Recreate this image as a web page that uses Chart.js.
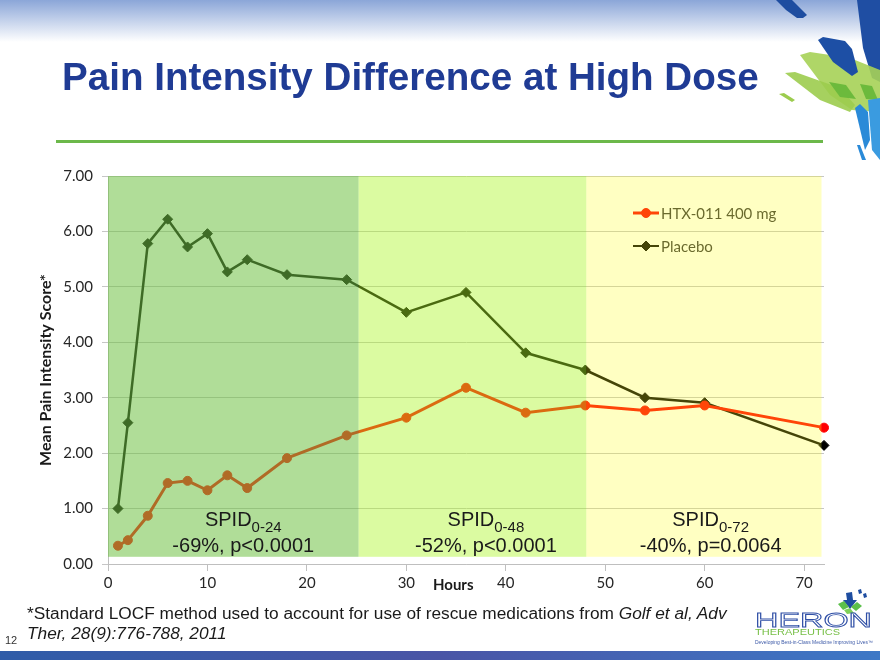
<!DOCTYPE html>
<html>
<head>
<meta charset="utf-8">
<title>Pain Intensity Difference at High Dose</title>
<script src="https://cdn.jsdelivr.net/npm/chart.js@4.4.1/dist/chart.umd.min.js"></script>
<style>
    html, body { margin: 0; padding: 0; background: #fff; }
    #slide { position: relative; width: 880px; height: 660px; overflow: hidden; font-family: "Liberation Sans", Arial, sans-serif; }
    #chart { position: absolute; left: 0; top: 0; }
    .top-fade { position: absolute; left: 0; top: 0; width: 880px; height: 42px; background: linear-gradient(#8ba6d8, #ffffff); }
    .deco { position: absolute; left: 0; top: 0; }
    h1 { position: absolute; left: 62px; top: 58px; margin: 0; font-size: 38.6px; line-height: 1; font-weight: bold; color: #1f3b94; white-space: nowrap; }
    .rule { position: absolute; left: 56px; top: 140px; width: 767px; height: 3px; background: #6cb84a; }
    .footnote { position: absolute; left: 27px; top: 603px; font-size: 17.3px; line-height: 20px; color: #1a1a1a; white-space: nowrap; }
    .page-no { position: absolute; left: 5px; top: 634px; font-size: 11px; color: #333; }
    .bottom-bar { position: absolute; left: 0; top: 651px; width: 880px; height: 9px; background: linear-gradient(90deg, #2f5ca8, #4a55a6 50%, #3d78c6); }
    .logo { position: absolute; left: 740px; top: 580px; }
</style>
</head>
<body>
<div id="slide">
    <div class="top-fade"></div>
    <svg class="deco" width="880" height="170">
        <polygon points="776,0 792,0 807,15 803,18 797,18 786,10" fill="#1e4da0"/>
        <polygon points="857,0 880,0 880,82 872,78 863,48" fill="#1f4ea3"/>
        <polygon points="800,55 810,52 850,58 880,70 880,112 852,110 830,95" fill="#a6d156" opacity="0.9"/>
        <polygon points="785,73 795,72 840,88 855,105 850,112 820,100" fill="#9ccc4e" opacity="0.9"/>
        <polygon points="829,82 846,85 856,99 840,97" fill="#6cba3c"/>
        <polygon points="860,84 872,86 878,100 866,99" fill="#6cba3c"/>
        <polygon points="779,94 784,93 795,100 792,102" fill="#9ccc4e"/>
        <polygon points="818,40 823,37 845,41 852,49 858,72 852,76 833,62" fill="#1d4fa5"/>
        <polygon points="855,108 860,104 868,112 870,140 865,150" fill="#2a8ad8"/>
        <polygon points="868,100 880,98 880,160 872,150" fill="#3a9be0"/>
        <polygon points="857,145 860,145 866,160 862,160" fill="#2a8ad8"/>
    </svg>
    <canvas id="chart" width="880" height="660"></canvas>
    <h1>Pain Intensity Difference at High Dose</h1>
    <div class="rule"></div>
    <div class="footnote">*Standard LOCF method used to account for use of rescue medications from <i>Golf et al, Adv</i><br><i>Ther, 28(9):776-788, 2011</i></div>
    <div class="page-no">12</div>
    <svg class="logo" width="140" height="70">
        <polygon points="106,13 112,12 113,20 117,20 110,29 103,20 107,20" fill="#1e4da0"/>
        <polygon points="98,24 104,21 109,27 103,30" fill="#5cc04a"/>
        <polygon points="111,27 117,22 122,26 116,31" fill="#5cc04a"/>
        <polygon points="104,30 110,28 114,33 107,34" fill="#7fd05a"/>
        <polygon points="118,10 121,9 122,13 119,14" fill="#1e4da0"/>
        <polygon points="123,14 126,13 127,17 124,18" fill="#1e4da0"/>
        <text x="15" y="47" textLength="117" lengthAdjust="spacingAndGlyphs" font-size="21" font-family="Liberation Sans" fill="none" stroke="#2f4fa6" stroke-width="0.8">HERON</text>
        <text x="15" y="55" textLength="85" lengthAdjust="spacingAndGlyphs" font-size="9" font-family="Liberation Sans" fill="#76bf45">THERAPEUTICS</text>
        <text x="15" y="64" textLength="118" lengthAdjust="spacingAndGlyphs" font-size="5" font-family="Liberation Sans" fill="#3d5aa8">Developing Best-in-Class Medicine Improving Lives™</text>
    </svg>
    <div class="bottom-bar"></div>
</div>
<script>
const hours = [1, 2, 4, 6, 8, 10, 12, 14, 18, 24, 30, 36, 42, 48, 54, 60, 72];
const htxScores = [0.33, 0.43, 0.87, 1.46, 1.50, 1.33, 1.60, 1.37, 1.91, 2.32, 2.64, 3.18, 2.73, 2.86, 2.77, 2.86, 2.46];
const placeboScores = [1.00, 2.55, 5.78, 6.22, 5.72, 5.96, 5.27, 5.49, 5.22, 5.13, 4.54, 4.90, 3.81, 3.50, 3.00, 2.91, 2.14];
const seriesNames = ['HTX-011 400 mg', 'Placebo'];
const xTickValues = [0, 10, 20, 30, 40, 50, 60, 70];

// shaded SPID periods (hours) and their result labels
const periodEdges = [0, 25.2, 48.1, 71.75];
const spidSubscripts = ['0-24', '0-48', '0-72'];
const spidResults = ['-69%, p<0.0001', '-52%, p<0.0001', '-40%, p=0.0064'];

const periodPlugin = {
    id: 'periods',
    afterDatasetsDraw(chart) {
        const { ctx, chartArea, scales: { x, y } } = chart;
        ctx.save();

        // legend inside the plot, under the tint like the original
        chart.data.datasets.forEach((ds, i) => {
            const ly = chartArea.top + 37 + i * 33;
            const lx = chartArea.right - 191;
            ctx.strokeStyle = ds.borderColor;
            ctx.fillStyle = ds.borderColor;
            ctx.lineWidth = i === 0 ? 3 : 2;
            ctx.beginPath();
            ctx.moveTo(lx, ly);
            ctx.lineTo(lx + 26, ly);
            ctx.stroke();
            ctx.lineWidth = 1;
            Chart.helpers.drawPoint(ctx, { pointStyle: ds.pointStyle, radius: ds.pointRadius, borderWidth: 1, rotation: 0 }, lx + 13, ly);
            ctx.fillStyle = '#333';
            ctx.font = '15px Lato';
            ctx.textAlign = 'left';
            ctx.textBaseline = 'middle';
            ctx.fillText(ds.label, lx + 28, ly + 1);
        });

        // translucent bands
        const tints = ['rgba(112,193,69,0.553)', 'rgba(172,246,37,0.43)', 'rgba(255,255,30,0.27)'];
        const top = y.getPixelForValue(7);
        const bottom = y.getPixelForValue(0.13);
        for (let i = 0; i < 3; i++) {
            const l = x.getPixelForValue(periodEdges[i]);
            const r = x.getPixelForValue(periodEdges[i + 1]);
            ctx.fillStyle = tints[i];
            ctx.fillRect(l, top, r - l, bottom - top);
        }

        // SPID labels
        const centers = [13.6, 38, 60.6];
        const y0 = y.getPixelForValue(0);
        ctx.fillStyle = '#1a1a1a';
        ctx.textBaseline = 'alphabetic';
        ctx.textAlign = 'left';
        centers.forEach((c, i) => {
            const cx = x.getPixelForValue(c);
            ctx.font = '20px "Liberation Sans"';
            const w1 = ctx.measureText('SPID').width;
            ctx.font = '15px "Liberation Sans"';
            const w2 = ctx.measureText(spidSubscripts[i]).width;
            const sx = cx - (w1 + w2) / 2;
            ctx.font = '20px "Liberation Sans"';
            ctx.fillText('SPID', sx, y0 - 38);
            ctx.font = '15px "Liberation Sans"';
            ctx.fillText(spidSubscripts[i], sx + w1, y0 - 32);
            ctx.font = '20px "Liberation Sans"';
            ctx.textAlign = 'center';
            ctx.fillText(spidResults[i], cx, y0 - 12);
            ctx.textAlign = 'left';
        });
        ctx.restore();
    }
};

new Chart(document.getElementById('chart'), {
    type: 'line',
    data: {
        datasets: [
            {
                label: seriesNames[0],
                data: hours.map((h, i) => ({ x: h, y: htxScores[i] })),
                borderColor: '#ff0000',
                backgroundColor: '#ff0000',
                pointBackgroundColor: '#ff0000',
                pointBorderColor: '#ff0000',
                borderWidth: 3,
                pointStyle: 'circle',
                pointRadius: 4.5,
                pointBorderWidth: 1,
                tension: 0,
                clip: false
            },
            {
                label: seriesNames[1],
                data: hours.map((h, i) => ({ x: h, y: placeboScores[i] })),
                borderColor: '#000000',
                backgroundColor: '#000000',
                pointBackgroundColor: '#000000',
                pointBorderColor: '#000000',
                borderWidth: 2.5,
                pointStyle: 'rectRot',
                pointRadius: 5,
                pointBorderWidth: 1,
                tension: 0,
                clip: false
            }
        ]
    },
    options: {
        responsive: false,
        animation: false,
        layout: { padding: { left: 28, right: 56, top: 176, bottom: 66 } },
        plugins: { legend: { display: false }, tooltip: { enabled: false } },
        scales: {
            x: {
                type: 'linear',
                min: 0,
                max: 72,
                afterBuildTicks: (s) => { s.ticks = xTickValues.map(v => ({ value: v })); },
                afterFit: (s) => { s.height = 30; },
                grid: { drawOnChartArea: false, tickLength: 7, color: '#bfbfbf' },
                border: { color: '#bfbfbf' },
                ticks: { font: { family: 'Lato', size: 15 }, color: '#262626', padding: 3, maxRotation: 0 },
                title: {
                    display: true,
                    text: 'Hours       ',
                    font: { family: 'Lato', weight: 'bold', size: 15 },
                    color: '#1a1a1a',
                    padding: { top: 0, bottom: 0 }
                }
            },
            y: {
                min: 0,
                max: 7,
                afterFit: (s) => { s.width = 80; },
                grid: { color: '#c6c6c6', tickLength: 6 },
                border: { color: '#bfbfbf' },
                ticks: {
                    stepSize: 1,
                    callback: (v) => v.toFixed(2),
                    font: { family: 'Lato', size: 15 },
                    color: '#262626',
                    padding: 9
                },
                title: {
                    display: true,
                    text: 'Mean Pain Intensity Score*',
                    font: { family: 'Lato', weight: 'bold', size: 16 },
                    color: '#1a1a1a',
                    padding: { top: 8, bottom: 0 }
                }
            }
        }
    },
    plugins: [periodPlugin]
});
</script>
</body>
</html>
